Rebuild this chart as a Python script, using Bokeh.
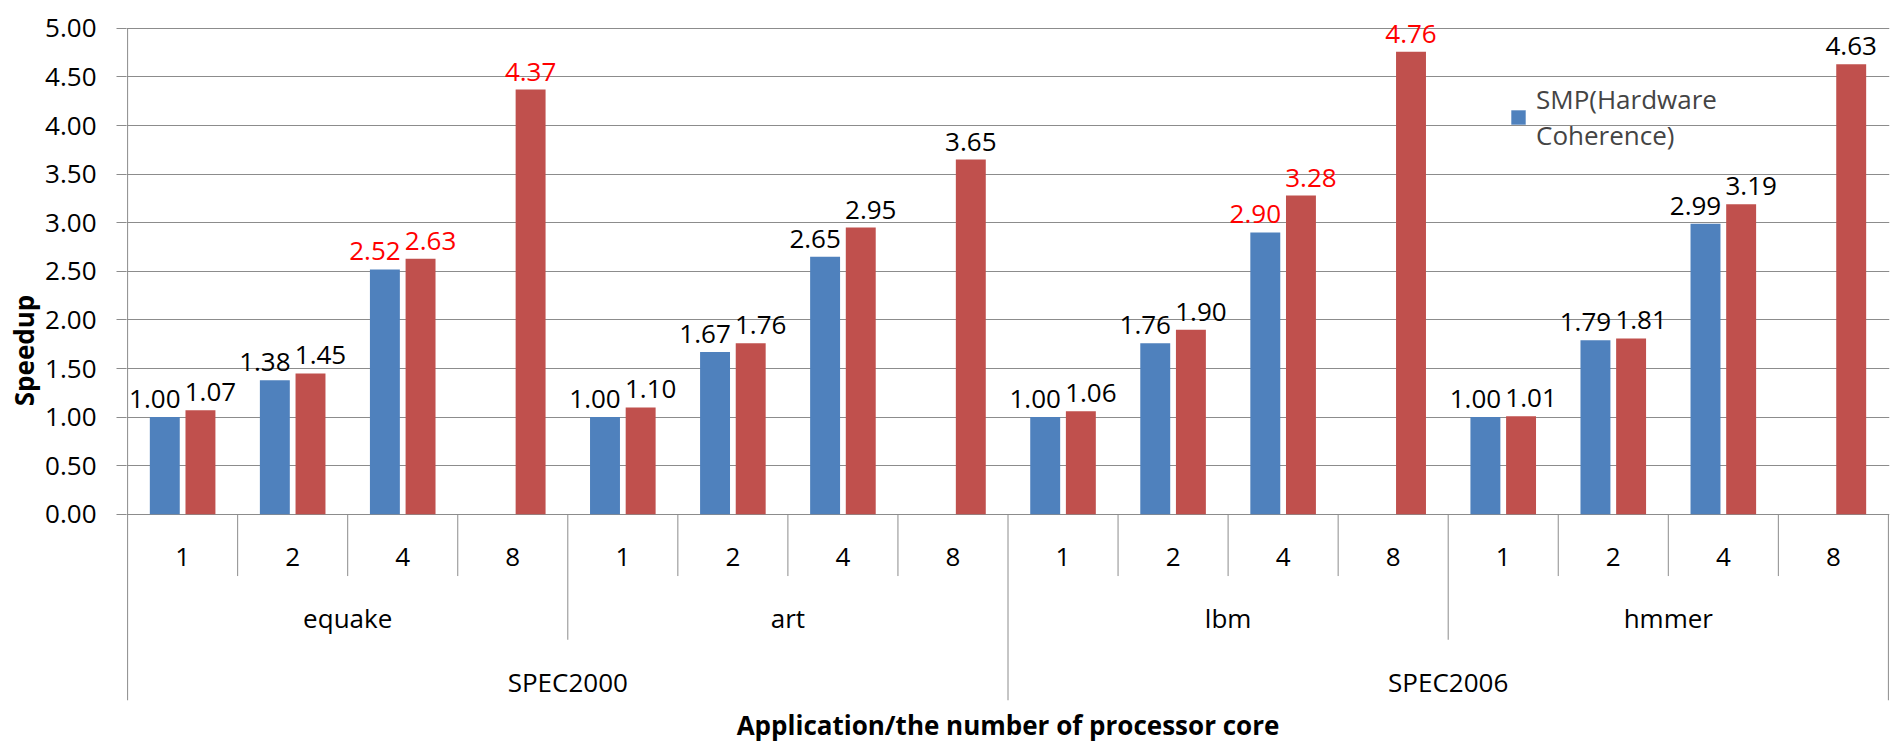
from bokeh.plotting import figure
from bokeh.models import Range1d, FixedTicker, NumeralTickFormatter, Legend, LegendItem
from bokeh.core.properties import value
from bokeh.embed import file_html
from bokeh.resources import INLINE

# ---------------- data ----------------
suites = ["SPEC2000", "SPEC2006"]
apps = ["equake", "art", "lbm", "hmmer"]
cores = ["1", "2", "4", "8"]
smp_name = "SMP(Hardware\nCoherence)"
smp = [1.00, 1.38, 2.52, None, 1.00, 1.67, 2.65, None,
       1.00, 1.76, 2.90, None, 1.00, 1.79, 2.99, None]
other = [1.07, 1.45, 2.63, 4.37, 1.10, 1.76, 2.95, 3.65,
         1.06, 1.90, 3.28, 4.76, 1.01, 1.81, 3.19, 4.63]
smp_red_label = [False, False, True, False, False, False, False, False,
                 False, False, True, False, False, False, False, False]
other_red_label = [False, False, True, True, False, False, False, False,
                   False, False, True, True, False, False, False, False]
y_ticks = [0.0, 0.5, 1.0, 1.5, 2.0, 2.5, 3.0, 3.5, 4.0, 4.5, 5.0]
y_title = "Speedup"
x_title = "Application/the number of processor core"

# ---------------- layout constants ----------------
BLUE = "#4F81BD"
RED = "#C0504D"
GRID = "#8C8C8C"
FONT = "Open Sans"
FS = "26px"
W, H = 1895, 745
FRAME_L, FRAME_R = 126, 1889
Y0_PX, Y5_PX, FRAME_B = 516, 28, 703      # pixel rows
PXU = (Y0_PX - Y5_PX) / 5.0               # pixels per y unit
y_top = 5.0 + Y5_PX / PXU
y_bot = -(FRAME_B - Y0_PX) / PXU

def below(px):
    return -px / PXU

n_cat = len(apps) * len(cores)
per_app = len(cores)
per_suite = n_cat // len(suites)
x_start, x_end = -0.01, n_cat + 0.01

p = figure(width=W, height=H, output_backend="svg", toolbar_location=None,
           x_range=Range1d(x_start, x_end), y_range=Range1d(y_bot, y_top),
           min_border_left=FRAME_L, min_border_right=W - FRAME_R,
           min_border_top=0, min_border_bottom=H - FRAME_B)
p.outline_line_color = None
p.background_fill_color = "white"

# y axis
yt = FixedTicker(ticks=y_ticks)
p.yaxis.ticker = yt
p.yaxis.formatter = NumeralTickFormatter(format="0.00")
p.yaxis.axis_line_color = None
p.yaxis.major_tick_line_color = GRID
p.yaxis.major_tick_out = 10
p.yaxis.major_tick_in = 0
p.yaxis.minor_tick_line_color = None
p.yaxis.major_label_standoff = 20
p.yaxis.major_label_text_font = FONT
p.yaxis.major_label_text_font_size = FS
p.yaxis.major_label_text_color = "black"
p.yaxis.axis_label = y_title
p.yaxis.axis_label_text_font = FONT
p.yaxis.axis_label_text_font_size = FS
p.yaxis.axis_label_text_font_style = "bold"
p.yaxis.axis_label_text_color = "black"
p.yaxis.axis_label_standoff = 0

# x axis (title only)
p.xaxis.ticker = FixedTicker(ticks=[])
p.xaxis.axis_line_color = None
p.xaxis.major_tick_line_color = None
p.xaxis.minor_tick_line_color = None
p.xaxis.major_tick_out = 0
p.xaxis.major_tick_in = 0
p.xaxis.major_label_standoff = 0
p.xaxis.axis_label = x_title
p.xaxis.axis_label_text_font = FONT
p.xaxis.axis_label_text_font_size = FS
p.xaxis.axis_label_text_font_style = "bold"
p.xaxis.axis_label_text_color = "black"
p.xaxis.axis_label_standoff = 6

p.xgrid.visible = False
p.ygrid.ticker = yt
p.ygrid.grid_line_color = GRID
p.ygrid.grid_line_width = 1

# ---------------- bars ----------------
OFF, BW = 0.162, 0.272
bx = [i + 0.5 - OFF for i, v in enumerate(smp) if v is not None]
bt = [v for v in smp if v is not None]
rx = [i + 0.5 + OFF for i in range(len(other))]
blue_r = p.vbar(x=bx, top=bt, bottom=0, width=BW, fill_color=BLUE, line_color=None)
p.vbar(x=rx, top=other, bottom=0, width=BW, fill_color=RED, line_color=None)

# data labels (paired labels nudged apart, as in the original)
NUDGE = 10
lx = bx + rx
ly = bt + other
lt = ["%.2f" % v for v in ly]
lc = ["#FF0000" if f else "black"
      for f, v in zip(smp_red_label, smp) if v is not None] + \
     ["#FF0000" if f else "black" for f in other_red_label]
lo = [-NUDGE] * len(bx) + [NUDGE if smp[i] is not None else 0 for i in range(len(other))]
p.text(x=lx, y=ly, text=lt, text_color=lc, x_offset=lo, y_offset=-18,
       text_align="center", text_baseline="alphabetic",
       text_font=value(FONT), text_font_size=value(FS))

# ---------------- multi-level category axis ----------------
p.segment(x0=[0], y0=[y_bot], x1=[0], y1=[5.0], line_color=GRID, line_width=1)

sx0, sy0, sy1 = [], [], []
for b in range(1, n_cat + 1):
    if b % per_suite == 0:
        yb = y_bot
    elif b % per_app == 0:
        yb = below(126)
    else:
        yb = below(62)
    sx0.append(b)
    sy0.append(0)
    sy1.append(yb)
p.segment(x0=sx0, y0=sy0, x1=sx0, y1=sy1, line_color=GRID, line_width=1)

l1x = [i + 0.5 for i in range(n_cat)]
l1t = [cores[i % per_app] for i in range(n_cat)]
p.text(x=l1x, y=[below(43)] * n_cat, text=l1t, text_align="center",
       text_baseline="middle", text_font=value(FONT), text_font_size=value(FS),
       text_color="black")
l2x = [k * per_app + per_app / 2 for k in range(len(apps))]
p.text(x=l2x, y=[below(104)] * len(apps), text=apps, text_align="center",
       text_baseline="middle", text_font=value(FONT), text_font_size=value(FS),
       text_color="black")
l3x = [k * per_suite + per_suite / 2 for k in range(len(suites))]
p.text(x=l3x, y=[below(168)] * len(suites), text=suites, text_align="center",
       text_baseline="middle", text_font=value(FONT), text_font_size=value(FS),
       text_color="black")

# ---------------- legend ----------------
legend = Legend(items=[LegendItem(label=smp_name, renderers=[blue_r])],
                location=(1383, 547), padding=0, margin=0, spacing=0,
                border_line_color=None, background_fill_alpha=0,
                glyph_width=18, glyph_height=18, label_standoff=9,
                label_text_font=FONT, label_text_font_size=FS,
                label_text_line_height=1.4)
p.add_layout(legend)

open("out.html", "w").write(file_html(p, INLINE))
